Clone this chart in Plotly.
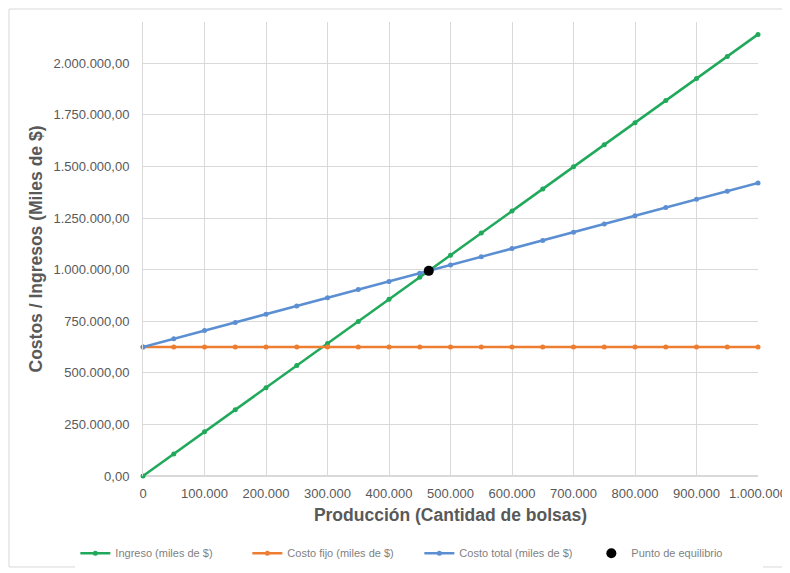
import plotly.graph_objects as go

# Producción (bolsas) y series en miles de $
produccion = [0, 50000, 100000, 150000, 200000, 250000, 300000, 350000, 400000,
              450000, 500000, 550000, 600000, 650000, 700000, 750000, 800000,
              850000, 900000, 950000, 1000000]
ingreso = [0, 107000, 214000, 321000, 428000, 535000, 642000, 749000, 856000,
           963000, 1070000, 1177000, 1284000, 1391000, 1498000, 1605000,
           1712000, 1819000, 1926000, 2033000, 2140000]
costo_fijo = [625000] * 21
costo_total = [625000, 664750, 704500, 744250, 784000, 823750, 863500, 903250,
               943000, 982750, 1022500, 1062250, 1102000, 1141750, 1181500,
               1221250, 1261000, 1300750, 1340500, 1380250, 1420000]
equilibrio_x = [464700]
equilibrio_y = [994000]

GRAY = "#595959"
FONT = "Liberation Sans, Arial, sans-serif"

fig = go.Figure()
series = [
    ("Ingreso (miles de $)", ingreso, "#21a95b"),
    ("Costo fijo (miles de $)", costo_fijo, "#ed7d31"),
    ("Costo total (miles de $)", costo_total, "#5b8fd2"),
]
for name, vals, color in series:
    fig.add_trace(go.Scatter(
        x=produccion, y=vals, name=name, mode="lines+markers",
        line=dict(color=color, width=2.5),
        marker=dict(color=color, size=5),
        cliponaxis=False,
    ))
fig.add_trace(go.Scatter(
    x=equilibrio_x, y=equilibrio_y, name="Punto de equilibrio", mode="markers",
    marker=dict(color="black", size=10), cliponaxis=False,
))

# the page body adds an 8px offset, so the figure is a bit smaller than the window
fig.update_layout(
    width=782, height=565,
    margin=dict(l=135, r=32, t=14, b=97, autoexpand=False),
    paper_bgcolor="white", plot_bgcolor="white",
    separators=",.",
    font=dict(family=FONT, color=GRAY, size=13),
    showlegend=True,
    legend=dict(orientation="h", x=-0.11, xanchor="left", y=-0.17, yanchor="middle",
                font=dict(size=11, color="#7f7f7f"), entrywidth=127,
                entrywidthmode="pixels", itemwidth=30),
    shapes=[dict(type="rect", xref="paper", yref="paper",
                 x0=-0.2179, x1=1.0407, y0=-0.2004, y1=1.0286,
                 line=dict(color="#d9d9d9", width=1), fillcolor="rgba(0,0,0,0)",
                 layer="below")],
)
fig.update_xaxes(
    range=[0, 1000000], dtick=100000, tickformat=",d", automargin=False,
    showgrid=True, gridcolor="#d9d9d9", zeroline=False,
    showline=False, ticks="", ticklabelstandoff=8,
    tickfont=dict(size=13, color=GRAY),
    title=dict(text="<b>Producción (Cantidad de bolsas)</b>",
               font=dict(size=17.5, color=GRAY), standoff=8),
)
fig.update_yaxes(
    range=[0, 2200000], dtick=250000, tickformat=",.2f", automargin=False,
    showgrid=True, gridcolor="#d9d9d9", zeroline=True, zerolinecolor="#d9d9d9",
    showline=True, linecolor="#d9d9d9", ticks="", ticklabelstandoff=10,
    tickfont=dict(size=13, color=GRAY),
    title=dict(text="<b>Costos / Ingresos (Miles de $)</b>",
               font=dict(size=17.5, color=GRAY), standoff=6),
)

fig.write_html("out.html")
